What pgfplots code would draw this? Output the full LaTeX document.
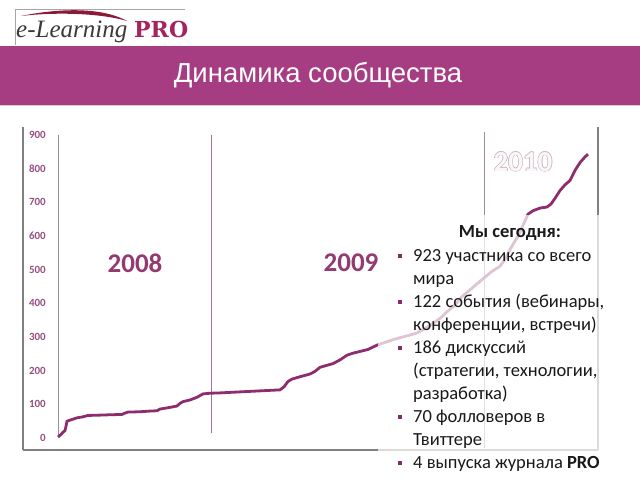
\documentclass[border=0pt]{standalone}
\usepackage{pgfplots}
\pgfplotsset{compat=1.18}
\usepackage{fontspec}
\setmainfont{Carlito}
\newfontfamily\arialf{Liberation Sans}
\newfontfamily\logof{Liberation Serif}
\newfontfamily\slabf{DejaVu Serif}

\definecolor{banner}{RGB}{166,60,130}
\definecolor{pinkline}{RGB}{232,196,218}
\definecolor{swoosh}{RGB}{140,25,55}
\definecolor{logogray}{RGB}{58,58,58}
\definecolor{logopro}{RGB}{165,35,95}
\definecolor{tickcol}{RGB}{150,80,130}
\definecolor{axisgray}{RGB}{128,128,128}
\definecolor{curvecol}{RGB}{142,45,110}
\definecolor{yearcol}{RGB}{148,58,114}
\definecolor{outlinecol}{RGB}{205,180,196}
\definecolor{bulletcol}{RGB}{140,40,105}
\definecolor{textcol}{RGB}{25,25,25}

\begin{document}
\begin{tikzpicture}[x=1bp,y=1bp]
\clip (0,0) rectangle (640,480);
\fill[white] (0,0) rectangle (640,480);

% header band and title
\fill[banner] (0,375) rectangle (640,434);
\draw[pinkline, line width=1bp] (0,374.5) -- (640,374.5);
\node[anchor=base, inner sep=0, text=white, font=\arialf\fontsize{27.5bp}{31bp}\selectfont] at (318,397) {Динамика сообщества};

% logo
\draw[gray!70, line width=0.8bp] (15,435) -- (15,471) -- (185,471);
\fill[swoosh] (21,464) .. controls (55,471) and (100,474) .. (127,459)
  .. controls (100,467) and (55,468) .. (21,464);
\node[anchor=base west, inner sep=0, text=logogray, font=\logof\itshape\fontsize{25bp}{28bp}\selectfont] at (16,442) {e-Learning};
\node[anchor=base west, inner sep=0, text=logopro, font=\slabf\bfseries\fontsize{22bp}{26bp}\selectfont] at (134,442) {PRO};

% chart, x in slide pixels (time), y = members
\begin{axis}[
    at={(23bp,30bp)}, anchor=south west,
    scale only axis, width=575bp, height=323bp,
    xmin=23, xmax=598, ymin=-35.6, ymax=923.8,
    axis x line*=bottom, axis y line*=box,
    axis line style={draw=axisgray, line width=1.1bp},
    xtick=\empty,
    ytick={0,100,...,900},
    major tick length=0pt,
    /pgf/number format/assume math mode=true,
    yticklabel style={anchor=east, inner sep=0pt, xshift=23bp, text=tickcol,
        font=\bfseries\fontsize{11bp}{13bp}\selectfont},
    clip=false,
]
\addplot[draw=gray!85, line width=1bp, forget plot] coordinates {(58,900) (58,4)};
\addplot[draw={rgb,255:red,165;green,115;blue,148}, line width=1bp, forget plot] coordinates {(211,900) (211,15)};
\addplot[draw={rgb,255:red,165;green,140;blue,155}, line width=1bp, forget plot] coordinates {(484,909) (484,-30)};
\addplot[curvecol, line width=2.8bp, line join=round] coordinates {
(58,3) (60,8) (63,17) (65,22) (66,35) (67,50) (72,55) (77,60) (83,63) (88,67)
(100,68) (110,69) (122,70) (125,74) (128,77) (140,78) (150,80) (157,81) (160,86)
(170,91) (177,95) (180,103) (183,108) (190,113) (197,121) (200,126) (203,131)
(210,133) (220,134) (240,137) (260,140) (280,143) (284,152) (288,168) (292,175)
(300,182) (310,190) (315,198) (320,210) (327,216) (333,221) (340,232) (347,246)
(353,252) (360,257) (368,263) (377,276) (385,284) (393,292) (400,298) (409,305)
(417,312) (425,325) (432,338) (440,355) (447,375) (455,395) (462,420) (470,440)
(477,458) (485,478) (492,495) (500,510) (506,535) (510,560) (514,580) (518,600)
(522,625) (525,645) (528,665) (533,675) (540,683) (547,686) (551,695) (555,712)
(560,735) (565,752) (570,765) (575,795) (580,818) (585,835) (588,843)
};
\end{axis}

% year labels
\node[text=yearcol, font=\bfseries\fontsize{27bp}{30bp}\selectfont] at (135,217) {2008};
\node[text=yearcol, font=\bfseries\fontsize{27bp}{30bp}\selectfont] at (351,217) {2009};
\foreach \dx/\dy in {0.55/0,-0.55/0,0/0.55,0/-0.55,0.4/0.4,-0.4/0.4,0.4/-0.4,-0.4/-0.4}{
  \node[text=outlinecol, font=\bfseries\fontsize{29bp}{32bp}\selectfont] at (523+\dx,318+\dy) {2010};
}
\node[text={rgb,255:red,250;green,247;blue,249}, font=\bfseries\fontsize{29bp}{32bp}\selectfont] at (523,318) {2010};

% translucent text box
\fill[white, opacity=0.72] (378,0) rectangle (640,265);
\node[anchor=base, inner sep=0, text=textcol, font=\bfseries\fontsize{18.5bp}{22.9bp}\selectfont] at (510,242) {Мы сегодня:};
\begin{scope}[every node/.style={anchor=base west, inner sep=0, text=textcol, font=\fontsize{18.5bp}{22.9bp}\selectfont}]
\node at (413,218) {923 участника со всего};
\node at (413,195) {мира};
\node at (413,172) {122 события (вебинары,};
\node at (413,149) {конференции, встречи)};
\node at (413,126) {186 дискуссий};
\node at (413,103) {(стратегии, технологии,};
\node at (413,80) {разработка)};
\node at (413,57) {70 фолловеров в};
\node at (413,34) {Твиттере};
\node at (413,11) {4 выпуска журнала \textbf{PRO}};
\end{scope}
\foreach \yb in {218,172,126,57,11}{
  \fill[bulletcol] (397.5,\yb+3.5) rectangle (401.5,\yb+7.5);
}
\end{tikzpicture}
\end{document}
